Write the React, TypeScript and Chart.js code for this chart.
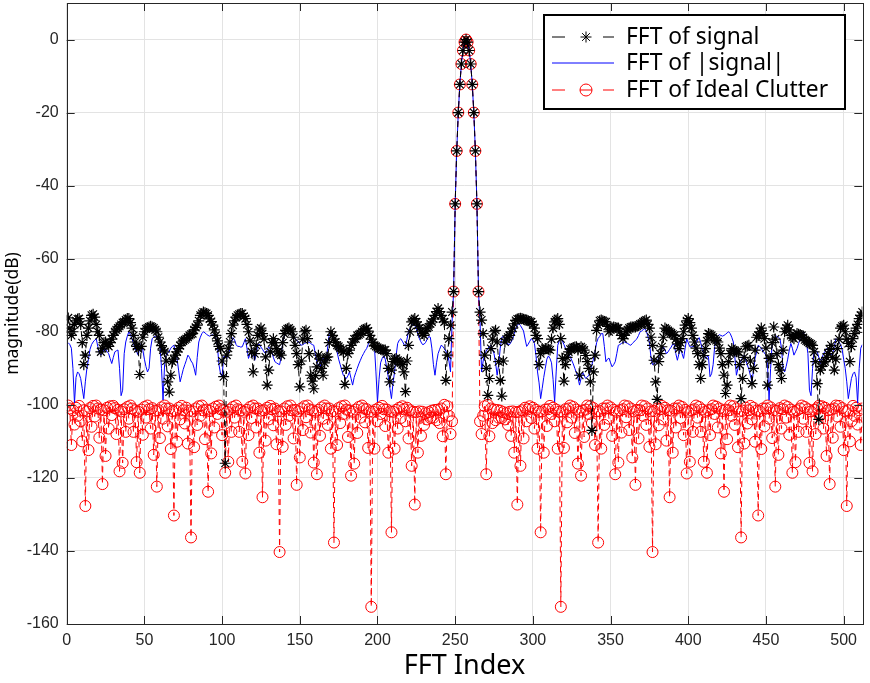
import React, { useEffect, useRef } from 'react';
import { Chart, registerables } from 'chart.js';

Chart.register(...registerables);

// ---------- data ----------
const xTicks = [0, 50, 100, 150, 200, 250, 300, 350, 400, 450, 500];
const yTicks = [-160, -140, -120, -100, -80, -60, -40, -20, 0];
const legendLabels = ['FFT of signal', 'FFT of |signal|', 'FFT of Ideal Clutter'];

// FFT index 249..265 (shared main lobe)
const mainLobe = [-69, -45, -30.5, -20, -12.3, -6.7, -3, -0.7, 0, -0.7, -3, -6.7, -12.3, -20, -30.5, -45, -69];

// FFT of signal, index 1..248
const signalLeft = [
  -76.2, -79.0, -81.0, -80.0, -78.0, -77.0, -76.5, -76.4, -78.0, -83.0,
  -89.0, -86.4, -81.0, -79.0, -77.0, -75.5, -75.2, -76.0, -78.0, -80.0,
  -81.0, -85.5, -84.5, -83.0, -82.8, -83.5, -84.0, -83.0, -82.0, -81.0,
  -80.0, -79.5, -79.0, -78.5, -78.0, -77.5, -77.3, -76.8, -76.4, -76.4,
  -77.5, -79.0, -81.0, -82.8, -84.0, -84.6, -91.7, -84.0, -81.5, -80.0,
  -79.2, -79.0, -78.7, -78.5, -78.7, -79.0, -79.5, -80.0, -81.5, -82.8,
  -83.8, -85.0, -85.5, -88.0, -93.7, -96.5, -91.9, -88.2, -87.5, -86.4,
  -85.5, -84.6, -83.8, -82.8, -82.5, -82.2, -81.9, -81.5, -81.0, -80.7,
  -80.5, -79.5, -78.8, -78.2, -77.0, -75.5, -75.0, -74.6, -74.8, -75.0,
  -75.5, -76.5, -77.2, -78.2, -79.5, -81.0, -82.5, -84.0, -84.6, -88.0,
  -92.3, -116.0, -86.4, -84.5, -82.8, -80.5, -78.2, -77.0, -76.0, -75.5,
  -75.2, -75.0, -75.0, -75.8, -76.4, -78.0, -80.0, -82.5, -85.5, -91.0,
  -86.0, -83.7, -81.0, -79.5, -79.0, -80.5, -82.0, -86.9, -94.6, -90.5,
  -85.5, -83.0, -81.9, -83.0, -84.6, -85.5, -86.0, -86.4, -83.0, -80.5,
  -79.6, -79.2, -79.0, -79.5, -80.0, -81.5, -83.7, -86.0, -89.0, -95.1,
  -88.0, -82.0, -80.0, -79.6, -81.9, -86.0, -91.9, -93.5, -95.6, -92.0,
  -89.6, -86.4, -87.5, -90.0, -91.9, -88.5, -87.0, -86.9, -83.0, -80.0,
  -81.0, -82.0, -82.8, -83.7, -84.0, -84.5, -85.0, -85.5, -94.4, -90.0,
  -86.0, -85.0, -83.7, -82.8, -82.0, -81.9, -81.0, -80.8, -80.5, -80.0,
  -79.5, -79.2, -79.0, -79.8, -81.0, -82.0, -83.0, -83.7, -84.0, -84.3,
  -84.6, -84.8, -85.0, -85.0, -85.0, -86.0, -90.0, -93.7, -90.5, -88.2,
  -87.5, -87.3, -87.8, -88.2, -88.5, -89.0, -91.0, -96.4, -88.0, -83.7,
  -80.0, -77.3, -76.8, -76.4, -77.3, -78.2, -79.0, -80.0, -80.5, -81.0,
  -79.8, -79.0, -78.7, -77.8, -77.3, -76.5, -75.5, -74.5, -73.6, -74.5,
  -75.5, -76.5, -77.3, -93.3, -86.4, -81.9, -78.2, -74.6,
];
// FFT of signal, index 266..512
const signalRight = [
  -74.6, -76.8, -80.5, -86.4, -90.0, -97.4, -92.8, -84.6, -82.0, -80.0,
  -79.6, -82.8, -88.2, -93.3, -97.6, -88.0, -82.8, -82.0, -81.5, -81.0,
  -80.0, -79.0, -77.8, -76.9, -76.5, -76.4, -76.3, -76.4, -76.6, -76.8,
  -76.8, -77.0, -77.2, -77.3, -78.0, -79.0, -81.0, -81.9, -89.0, -86.0,
  -84.6, -85.0, -84.6, -84.6, -84.8, -85.0, -82.0, -79.0, -77.3, -76.8,
  -76.4, -78.0, -81.9, -87.3, -93.5, -89.0, -87.0, -85.5, -84.8, -84.6,
  -84.3, -84.2, -84.1, -85.0, -91.9, -84.1, -84.5, -85.0, -86.5, -88.2,
  -90.0, -93.7, -107.0, -91.0, -86.4, -79.6, -78.2, -77.0, -76.8, -77.0,
  -77.2, -77.3, -78.5, -80.0, -79.5, -79.0, -78.7, -78.8, -79.0, -79.0,
  -80.0, -81.0, -81.9, -81.0, -80.0, -79.5, -79.0, -78.7, -78.7, -78.7,
  -78.7, -78.5, -78.2, -77.9, -77.7, -77.3, -77.0, -76.8, -78.0, -79.0,
  -81.5, -83.7, -87.8, -93.7, -98.5, -88.2, -86.0, -84.1, -81.5, -79.0,
  -79.3, -79.7, -80.0, -80.3, -80.7, -81.0, -82.0, -83.3, -84.6, -83.0,
  -81.9, -80.0, -78.2, -77.0, -76.4, -77.5, -79.0, -81.0, -82.8, -84.5,
  -86.0, -89.0, -92.8, -89.0, -86.5, -84.6, -82.5, -80.5, -80.7, -81.0,
  -81.5, -82.0, -82.4, -82.8, -84.5, -86.0, -89.0, -91.9, -96.9, -94.6,
  -88.2, -86.0, -84.6, -85.0, -85.3, -85.5, -85.5, -89.0, -98.3, -92.8,
  -87.0, -84.1, -83.9, -83.7, -88.0, -94.2, -90.0, -85.0, -81.5, -81.0,
  -80.0, -79.0, -80.5, -81.9, -84.5, -94.6, -87.3, -87.3, -83.0, -78.7,
  -82.0, -86.0, -89.0, -90.5, -92.8, -85.0, -80.0, -79.0, -78.2, -79.5,
  -81.0, -81.5, -81.9, -81.2, -80.5, -80.7, -80.8, -81.0, -81.6, -82.2,
  -82.5, -82.8, -83.1, -83.4, -83.7, -85.5, -88.2, -94.2, -104.0, -90.5,
  -89.5, -88.5, -88.2, -87.0, -86.0, -84.8, -83.7, -87.0, -90.5, -87.5,
  -84.6, -82.0, -79.0, -78.5, -78.2, -80.0, -82.0, -83.2, -88.2, -84.0,
  -81.9, -80.5, -79.0, -78.0, -76.4, -75.5, -74.6,
];

// FFT of |signal|, index 1..248
const absLeft = [
  -83.0, -83.5, -84.5, -90.0, -99.5, -92.5, -91.0, -91.5, -92.8, -95.5,
  -98.3, -93.7, -90.0, -87.5, -84.8, -83.5, -82.8, -82.3, -81.9, -84.0,
  -85.8, -86.4, -85.8, -85.0, -84.6, -85.4, -86.0, -87.4, -88.7, -87.0,
  -85.5, -85.2, -85.0, -90.0, -97.5, -96.0, -86.0, -82.8, -81.2, -80.0,
  -80.8, -81.9, -83.2, -84.6, -85.5, -86.4, -84.5, -83.2, -85.0, -87.5,
  -89.5, -91.0, -90.0, -84.5, -81.9, -81.5, -81.2, -81.4, -82.3, -83.2,
  -90.0, -98.7, -89.0, -86.4, -85.8, -85.3, -84.5, -84.0, -83.7, -85.5,
  -87.3, -90.5, -93.7, -92.0, -90.3, -89.0, -87.8, -86.4, -87.0, -88.0,
  -88.6, -90.0, -91.9, -87.0, -82.8, -81.5, -80.5, -80.0, -80.3, -80.7,
  -81.0, -81.2, -81.0, -80.8, -81.2, -81.6, -84.0, -89.0, -91.5, -92.3,
  -86.8, -86.8, -87.3, -86.0, -84.8, -83.0, -81.6, -82.2, -83.5, -84.0,
  -84.0, -84.2, -84.1, -83.0, -81.9, -84.5, -87.3, -86.0, -84.6, -86.0,
  -87.8, -86.0, -83.5, -83.4, -84.2, -84.8, -85.5, -86.0, -85.0, -84.1,
  -84.8, -85.5, -87.0, -88.2, -88.5, -88.8, -89.0, -87.0, -83.0, -81.2,
  -79.8, -79.1, -79.4, -79.8, -80.0, -81.0, -81.9, -82.3, -82.8, -83.2,
  -83.7, -83.5, -83.2, -83.0, -82.8, -82.9, -83.2, -83.5, -83.7, -86.0,
  -88.2, -89.0, -89.6, -88.5, -87.2, -87.5, -88.2, -84.0, -80.5, -80.5,
  -81.3, -81.8, -83.0, -85.5, -87.5, -89.0, -90.5, -91.9, -92.4, -92.8,
  -92.0, -91.0, -92.8, -94.6, -92.5, -91.2, -90.0, -88.8, -87.8, -86.8,
  -86.0, -85.2, -84.6, -83.5, -82.5, -81.9, -82.5, -83.7, -91.0, -99.2,
  -93.0, -88.5, -87.3, -86.6, -87.5, -90.0, -92.5, -95.5, -98.3, -94.0,
  -91.0, -86.5, -83.2, -82.3, -81.9, -82.6, -83.4, -84.0, -82.0, -79.8,
  -79.0, -78.3, -77.7, -78.3, -79.1, -80.5, -81.9, -82.8, -83.5, -83.4,
  -82.9, -82.0, -81.3, -81.5, -84.5, -89.0, -91.9, -88.5, -86.0, -84.8,
  -83.7, -84.0, -84.6, -85.3, -86.0, -88.0, -91.0, -77.3,
];
// FFT of |signal|, index 266..512
const absRight = [
  -77.3, -91.0, -88.0, -86.0, -85.3, -84.6, -84.0, -83.7,
  -84.8, -86.0, -88.5, -91.9, -89.0, -84.5, -81.5, -81.3, -82.0, -82.9,
  -83.4, -83.5, -82.8, -81.9, -80.5, -79.1, -78.3, -77.7, -78.3, -79.0,
  -79.8, -82.0, -84.0, -83.4, -82.6, -81.9, -82.3, -83.2, -86.5, -91.0,
  -94.0, -98.3, -95.5, -92.5, -90.0, -87.5, -86.6, -87.3, -88.5, -93.0,
  -99.2, -91.0, -83.7, -82.5, -81.9, -82.5, -83.5, -84.6, -85.2, -86.0,
  -86.8, -87.8, -88.8, -90.0, -91.2, -92.5, -94.6, -92.8, -91.0, -92.0,
  -92.8, -92.4, -91.9, -90.5, -89.0, -87.5, -85.5, -83.0, -81.8, -81.3,
  -80.5, -80.5, -84.0, -88.2, -87.5, -87.2, -88.5, -89.6, -89.0, -88.2,
  -86.0, -83.7, -83.5, -83.2, -82.9, -82.8, -83.0, -83.2, -83.5, -83.7,
  -83.2, -82.8, -82.3, -81.9, -81.0, -80.0, -79.8, -79.4, -79.1, -79.8,
  -81.2, -83.0, -87.0, -89.0, -88.8, -88.5, -88.2, -87.0, -85.5, -84.8,
  -84.1, -85.0, -86.0, -85.5, -84.8, -84.2, -83.4, -83.5, -86.0, -87.8,
  -86.0, -84.6, -86.0, -87.3, -84.5, -81.9, -83.0, -84.1, -84.2, -84.0,
  -84.0, -83.5, -82.2, -81.6, -83.0, -84.8, -86.0, -87.3, -86.8, -86.8,
  -92.3, -91.5, -89.0, -84.0, -81.6, -81.2, -80.8, -81.0, -81.2, -81.0,
  -80.7, -80.3, -80.0, -80.5, -81.5, -82.8, -87.0, -91.9, -90.0, -88.6,
  -88.0, -87.0, -86.4, -87.8, -89.0, -90.3, -92.0, -93.7, -90.5, -87.3,
  -85.5, -83.7, -84.0, -84.5, -85.3, -85.8, -86.4, -89.0, -98.7, -90.0,
  -83.2, -82.3, -81.4, -81.2, -81.5, -81.9, -84.5, -90.0, -91.0, -89.5,
  -87.5, -85.0, -83.2, -84.5, -86.4, -85.5, -84.6, -83.2, -81.9, -80.8,
  -80.0, -81.2, -82.8, -86.0, -96.0, -97.5, -90.0, -85.0, -85.2, -85.5,
  -87.0, -88.7, -87.4, -86.0, -85.4, -84.6, -85.0, -85.8, -86.4, -85.8,
  -84.0, -81.9, -82.3, -82.8, -83.5, -84.8, -87.5, -90.0, -93.7, -98.3,
  -95.5, -92.8, -91.5, -91.0, -92.5, -99.5, -90.0, -84.5, -83.5,
];

// FFT of Ideal Clutter, index 1..248
const clutterLeft = [
  -100.2, -101.0, -111.0, -101.5, -105.4, -100.8, -103.0, -100.3, -104.5, -110.0,
  -101.5, -127.7, -101.8, -112.4, -100.9, -106.0, -100.3, -103.2, -100.2, -101.0,
  -109.0, -101.3, -121.7, -101.5, -114.0, -100.8, -106.5, -100.4, -102.8, -100.3,
  -100.9, -108.0, -101.4, -118.2, -101.8, -115.9, -101.2, -107.4, -100.6, -103.8,
  -100.2, -101.0, -107.4, -101.5, -115.7, -101.9, -118.6, -101.3, -108.2, -100.6,
  -103.5, -100.2, -101.2, -106.5, -100.9, -113.7, -101.6, -122.4, -101.5, -109.1,
  -100.7, -103.8, -100.2, -101.0, -105.9, -101.0, -112.1, -101.7, -130.3, -101.6,
  -110.1, -100.8, -104.0, -100.3, -101.5, -105.1, -100.8, -110.6, -101.6, -136.3,
  -101.8, -111.6, -101.0, -105.5, -100.4, -103.0, -100.2, -101.5, -109.4, -101.3,
  -123.8, -101.7, -113.3, -101.0, -106.2, -100.5, -102.5, -100.2, -101.2, -108.3,
  -101.5, -118.6, -101.9, -115.6, -101.3, -107.4, -100.6, -103.5, -100.2, -101.2,
  -107.4, -101.5, -115.6, -101.9, -118.8, -101.4, -108.3, -100.6, -103.6, -100.2,
  -101.0, -106.2, -101.0, -113.1, -101.6, -125.3, -101.5, -109.8, -100.8, -104.0,
  -100.3, -101.2, -105.6, -101.0, -110.8, -101.7, -140.3, -101.8, -111.5, -101.0,
  -105.5, -100.4, -103.0, -100.2, -101.5, -109.2, -101.4, -121.9, -101.8, -114.4,
  -101.0, -106.9, -100.4, -103.4, -100.2, -101.2, -107.6, -101.5, -115.8, -101.9,
  -119.0, -101.4, -108.5, -100.7, -103.8, -100.2, -101.0, -105.5, -101.0, -112.0,
  -101.7, -137.7, -101.8, -111.0, -100.9, -105.0, -100.4, -102.5, -100.2, -101.3,
  -108.8, -101.6, -119.4, -101.9, -116.1, -101.3, -107.7, -100.6, -103.5, -100.2,
  -101.0, -104.8, -101.2, -111.8, -101.8, -155.3, -101.9, -112.0, -101.3, -104.5,
  -100.8, -102.5, -100.3, -101.2, -105.8, -101.3, -113.1, -101.8, -134.9, -101.9,
  -112.0, -101.4, -106.5, -100.8, -103.6, -100.4, -101.2, -104.5, -100.8, -109.2,
  -101.5, -116.7, -101.9, -127.3, -102.0, -113.1, -101.8, -108.5, -101.9, -105.5,
  -102.3, -104.0, -102.0, -103.6, -101.6, -103.5, -101.4, -104.2, -101.3, -105.0,
  -101.0, -108.6, -100.0, -119.0, -100.4, -103.0, -108.0, -104.5,
];
// FFT of Ideal Clutter, index 266..512
const clutterRight = [
  -104.5, -108.0, -103.0, -100.4, -119.0, -100.0, -108.6, -101.0,
  -105.0, -101.3, -104.2, -101.4, -103.5, -101.6, -103.6, -102.0, -104.0, -102.3,
  -105.5, -101.9, -108.5, -101.8, -113.1, -102.0, -127.3, -101.9, -116.7, -101.5,
  -109.2, -100.8, -104.5, -101.2, -100.4, -103.6, -100.8, -106.5, -101.4, -112.0,
  -101.9, -134.9, -101.8, -113.1, -101.3, -105.8, -101.2, -100.3, -102.5, -100.8,
  -104.5, -101.3, -112.0, -101.9, -155.3, -101.8, -111.8, -101.2, -104.8, -101.0,
  -100.2, -103.5, -100.6, -107.7, -101.3, -116.1, -101.9, -119.4, -101.6, -108.8,
  -101.3, -100.2, -102.5, -100.4, -105.0, -100.9, -111.0, -101.8, -137.7, -101.7,
  -112.0, -101.0, -105.5, -101.0, -100.2, -103.8, -100.7, -108.5, -101.4, -119.0,
  -101.9, -115.8, -101.5, -107.6, -101.2, -100.2, -103.4, -100.4, -106.9, -101.0,
  -114.4, -101.8, -121.9, -101.4, -109.2, -101.5, -100.2, -103.0, -100.4, -105.5,
  -101.0, -111.5, -101.8, -140.3, -101.7, -110.8, -101.0, -105.6, -101.2, -100.3,
  -104.0, -100.8, -109.8, -101.5, -125.3, -101.6, -113.1, -101.0, -106.2, -101.0,
  -100.2, -103.6, -100.6, -108.3, -101.4, -118.8, -101.9, -115.6, -101.5, -107.4,
  -101.2, -100.2, -103.5, -100.6, -107.4, -101.3, -115.6, -101.9, -118.6, -101.5,
  -108.3, -101.2, -100.2, -102.5, -100.5, -106.2, -101.0, -113.3, -101.7, -123.8,
  -101.3, -109.4, -101.5, -100.2, -103.0, -100.4, -105.5, -101.0, -111.6, -101.8,
  -136.3, -101.6, -110.6, -100.8, -105.1, -101.5, -100.3, -104.0, -100.8, -110.1,
  -101.6, -130.3, -101.7, -112.1, -101.0, -105.9, -101.0, -100.2, -103.8, -100.7,
  -109.1, -101.5, -122.4, -101.6, -113.7, -100.9, -106.5, -101.2, -100.2, -103.5,
  -100.6, -108.2, -101.3, -118.6, -101.9, -115.7, -101.5, -107.4, -101.0, -100.2,
  -103.8, -100.6, -107.4, -101.2, -115.9, -101.8, -118.2, -101.4, -108.0, -100.9,
  -100.3, -102.8, -100.4, -106.5, -100.8, -114.0, -101.5, -121.7, -101.3, -109.0,
  -101.0, -100.2, -103.2, -100.3, -106.0, -100.9, -112.4, -101.8, -127.7, -101.5,
  -110.0, -104.5, -100.3, -103.0, -100.8, -105.4, -101.5, -111.0, -101.0,
];

const signalDb = [...signalLeft, ...mainLobe, ...signalRight];
const absSignalDb = [...absLeft, ...mainLobe, ...absRight];
const clutterDb = [...clutterLeft, ...mainLobe, ...clutterRight];
const fftIndex = signalDb.map((_, i) => i + 1);

// ---------- style ----------
const W = 870;
const H = 683;
const AXIS = '#262626';
const GRID = '#e3e3e3';
const TICK_FONT = { family: 'Liberation Sans, Arial, sans-serif', size: 16 };
const LABEL_FAMILY = '"Noto Sans", "Open Sans", sans-serif';

const toPoints = (ys: number[]) => ys.map((y, i) => ({ x: fftIndex[i], y }));

const decorPlugin = {
  id: 'decor',
  afterDraw(chart: any) {
    const { ctx, chartArea: a, scales } = chart;
    const xs = scales.x;
    const ys = scales.y;
    ctx.save();
    ctx.strokeStyle = AXIS;
    ctx.lineWidth = 1;
    const tl = 8;
    ctx.beginPath();
    xTicks.forEach((v) => {
      const px = Math.round(xs.getPixelForValue(v)) + 0.5;
      ctx.moveTo(px, a.bottom);
      ctx.lineTo(px, a.bottom - tl);
      ctx.moveTo(px, a.top);
      ctx.lineTo(px, a.top + tl);
    });
    yTicks.forEach((v) => {
      const py = Math.round(ys.getPixelForValue(v)) + 0.5;
      ctx.moveTo(a.left, py);
      ctx.lineTo(a.left + tl, py);
      ctx.moveTo(a.right, py);
      ctx.lineTo(a.right - tl, py);
    });
    ctx.stroke();
    ctx.strokeRect(Math.round(a.left) + 0.5, Math.round(a.top) + 0.5, Math.round(a.width), Math.round(a.height));

    // legend
    const bx = 544, by = 15, bw = 301, bh = 94;
    ctx.fillStyle = '#ffffff';
    ctx.fillRect(bx, by, bw, bh);
    ctx.strokeStyle = '#000000';
    ctx.lineWidth = 2;
    ctx.strokeRect(bx, by, bw, bh);
    const rows = [37, 63, 90];
    const l0 = 552, l1 = 614, mx = 586, tx = 626;
    ctx.lineWidth = 1;
    ctx.strokeStyle = '#000000';
    ctx.beginPath();
    ctx.moveTo(l0, rows[0]); ctx.lineTo(l0 + 13, rows[0]);
    ctx.moveTo(l1 - 11, rows[0]); ctx.lineTo(l1, rows[0]);
    ctx.stroke();
    ctx.beginPath();
    for (let k = 0; k < 4; k++) {
      const ang = (k * Math.PI) / 4;
      const r = 5.5;
      ctx.moveTo(mx - r * Math.cos(ang), rows[0] - r * Math.sin(ang));
      ctx.lineTo(mx + r * Math.cos(ang), rows[0] + r * Math.sin(ang));
    }
    ctx.stroke();
    ctx.strokeStyle = '#0000ff';
    ctx.beginPath();
    ctx.moveTo(l0, rows[1]); ctx.lineTo(l1, rows[1]);
    ctx.stroke();
    ctx.strokeStyle = '#ff0000';
    ctx.beginPath();
    ctx.moveTo(l0, rows[2]); ctx.lineTo(l0 + 13, rows[2]);
    ctx.moveTo(l1 - 11, rows[2]); ctx.lineTo(l1, rows[2]);
    ctx.moveTo(mx - 6, rows[2]); ctx.lineTo(mx + 6, rows[2]);
    ctx.stroke();
    ctx.beginPath();
    ctx.arc(mx, rows[2], 6, 0, Math.PI * 2);
    ctx.stroke();
    ctx.fillStyle = '#000000';
    ctx.font = `22.8px ${LABEL_FAMILY}`;
    ctx.textBaseline = 'middle';
    ctx.textAlign = 'left';
    legendLabels.forEach((t, i) => ctx.fillText(t, tx, rows[i] + 1));
    ctx.restore();
  },
};

export default function App() {
  const ref = useRef<HTMLCanvasElement>(null);
  useEffect(() => {
    document.body.style.margin = '0';
    const canvas = ref.current;
    if (!canvas) return;
    const chart = new Chart(canvas, {
      type: 'line',
      data: {
        datasets: [
          {
            label: legendLabels[0],
            data: toPoints(signalDb),
            borderColor: '#000000',
            backgroundColor: '#000000',
            borderWidth: 1,
            borderDash: [6, 4],
            pointStyle: 'star',
            pointRadius: 5.5,
            pointBorderWidth: 1.2,
            pointBorderColor: '#000000',
            pointHoverRadius: 5.5,
            tension: 0,
          },
          {
            label: legendLabels[1],
            data: toPoints(absSignalDb),
            borderColor: '#0000ff',
            backgroundColor: '#0000ff',
            borderWidth: 1,
            pointRadius: 0,
            pointHoverRadius: 0,
            tension: 0,
          },
          {
            label: legendLabels[2],
            data: toPoints(clutterDb),
            borderColor: '#ff0000',
            backgroundColor: 'rgba(0,0,0,0)',
            borderWidth: 1,
            borderDash: [6, 4],
            pointStyle: 'circle',
            pointRadius: 5.5,
            pointBorderWidth: 1,
            pointBorderColor: '#ff0000',
            pointBackgroundColor: 'rgba(0,0,0,0)',
            pointHoverRadius: 5.5,
            tension: 0,
          },
        ],
      },
      options: {
        responsive: false,
        animation: false,
        parsing: false,
        normalized: true,
        events: [],
        layout: { autoPadding: false, padding: { left: 0, right: 7.7, top: 3, bottom: 0 } },
        plugins: {
          legend: { display: false },
          tooltip: { enabled: false },
        },
        scales: {
          x: {
            type: 'linear',
            min: 0,
            max: 512,
            afterBuildTicks: (s: any) => {
              s.ticks = xTicks.map((v) => ({ value: v }));
            },
            afterFit: (s: any) => {
              s.height = 59;
              s.paddingLeft = 0;
              s.paddingRight = 0;
            },
            ticks: {
              autoSkip: false,
              maxRotation: 0,
              color: AXIS,
              font: TICK_FONT,
              padding: 7,
            },
            grid: { color: GRID, drawTicks: false, lineWidth: 1 },
            border: { display: false },
            title: {
              display: true,
              text: 'FFT Index',
              color: '#000000',
              font: { family: LABEL_FAMILY, size: 27, lineHeight: 1.2 },
              padding: { top: 0, bottom: 0 },
            },
          },
          y: {
            type: 'linear',
            min: -160,
            max: 10,
            afterBuildTicks: (s: any) => {
              s.ticks = yTicks.map((v) => ({ value: v }));
            },
            afterFit: (s: any) => {
              s.width = 66.7;
              s.paddingTop = 0;
              s.paddingBottom = 0;
            },
            ticks: {
              autoSkip: false,
              color: AXIS,
              font: TICK_FONT,
              padding: 8,
            },
            grid: { color: GRID, drawTicks: false, lineWidth: 1 },
            border: { display: false },
            title: {
              display: true,
              text: 'magnitude(dB)',
              color: '#000000',
              font: { family: LABEL_FAMILY, size: 17.5, lineHeight: 1.2 },
              padding: { top: 3, bottom: 0 },
            },
          },
        },
      },
      plugins: [decorPlugin],
    });
    return () => chart.destroy();
  }, []);
  return (
    <div style={{ width: W, height: H }}>
      <canvas ref={ref} width={W} height={H} style={{ display: 'block' }} />
    </div>
  );
}
